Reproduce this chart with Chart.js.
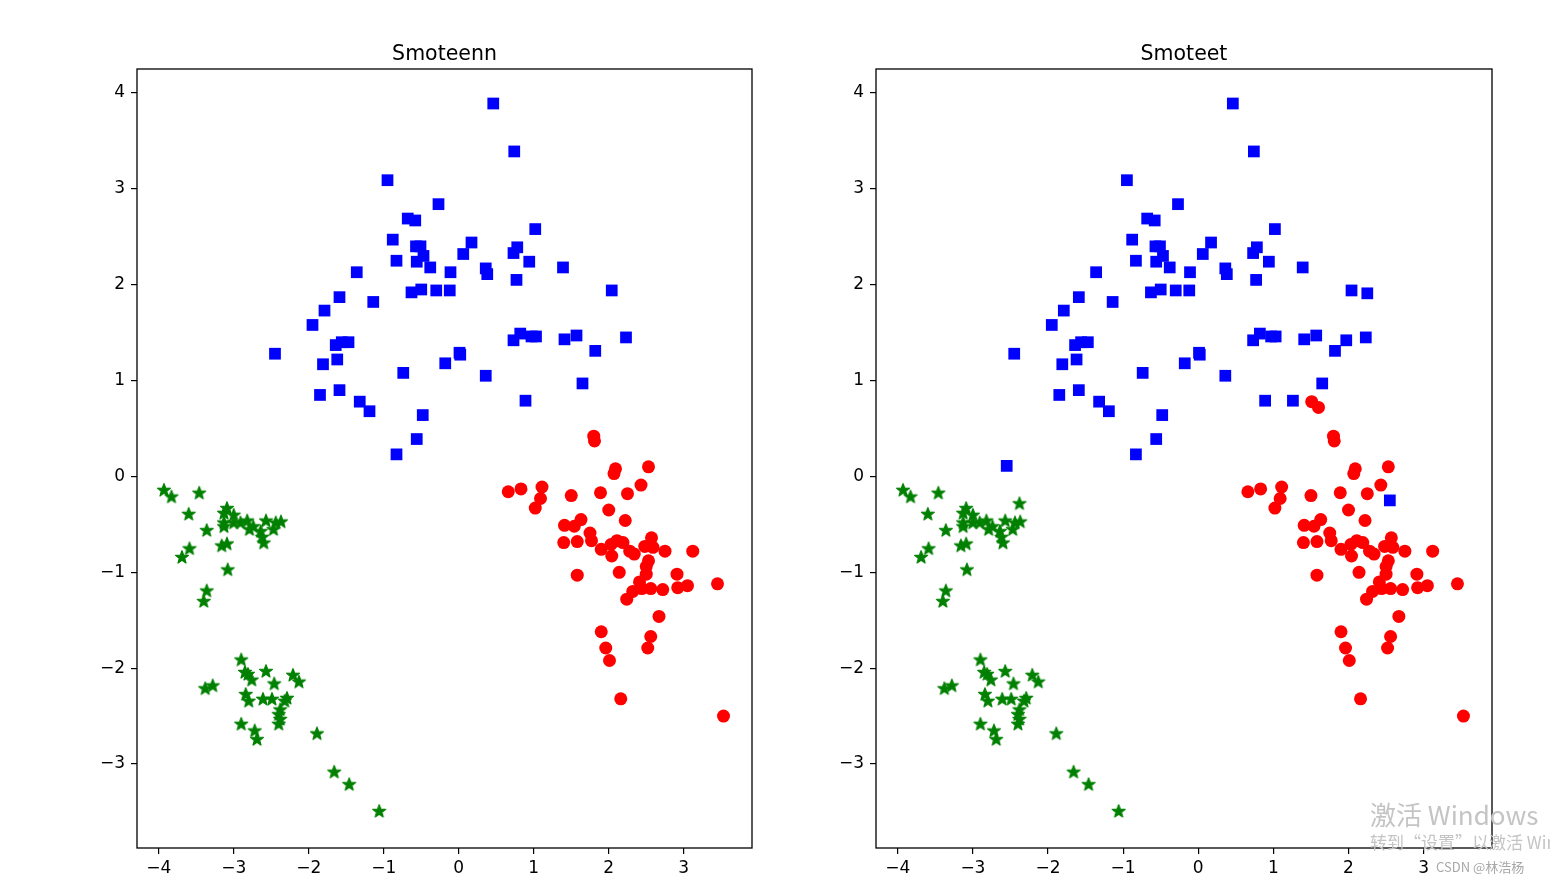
<!DOCTYPE html>
<html>
<head>
<meta charset="utf-8">
<script src="https://cdn.jsdelivr.net/npm/chart.js@4.4.0/dist/chart.umd.min.js"></script>
<style>
  html, body { margin: 0; padding: 0; background: #fff; }
  body { width: 1550px; height: 882px; position: relative; overflow: hidden; font-family: "DejaVu Sans", sans-serif; }
  canvas { position: absolute; top: 0; }
  #left { left: 0; }
  #right { left: 775px; }
  .wm { position: absolute; white-space: nowrap; font-family: "Noto Sans CJK SC", "Noto Sans", sans-serif; }
</style>
</head>
<body>
<canvas id="left" width="775" height="882"></canvas>
<canvas id="right" width="775" height="882"></canvas>
<div class="wm" style="left:1370px; top:795px; font-size:26px; color:#c4c4c4;">激活 Windows</div>
<div class="wm" style="left:1370px; top:829px; font-size:17px; color:#c4c4c4;">转到“设置”以激活 Windows。</div>
<div class="wm" style="left:1436px; top:857px; font-size:13px; color:#a8a8a8;">CSDN @林浩杨</div>
<script>
// axis ranges and ticks (same for both panels)
const xMin = -4.29, xMax = 3.91;
const yMin = -3.876, yMax = 4.25;
const xTicks = [-4, -3, -2, -1, 0, 1, 2, 3];
const yTicks = [-3, -2, -1, 0, 1, 2, 3, 4];

// Smoteenn panel
const smoteennBlue = [
  [0.46,3.89],[0.74,3.39],[-0.95,3.09],[-0.27,2.84],[-0.68,2.69],[-0.58,2.67],[1.02,2.58],[-0.88,2.47],
  [0.17,2.44],[-0.57,2.40],[-0.51,2.40],[0.78,2.39],[0.73,2.33],[0.06,2.32],[-0.47,2.30],[-0.83,2.25],
  [-0.56,2.24],[0.94,2.24],[-0.38,2.18],[1.39,2.18],[-1.36,2.13],[-0.11,2.13],[0.36,2.17],[0.38,2.11],
  [0.77,2.05],[2.04,1.94],[-0.63,1.92],[-0.50,1.95],[-0.30,1.94],[-0.12,1.94],[-1.59,1.87],[-1.14,1.82],
  [-1.79,1.73],[-1.95,1.58],[0.82,1.49],[0.73,1.42],[0.97,1.46],[1.03,1.46],[1.41,1.43],[1.57,1.47],
  [-1.56,1.40],[-1.47,1.40],[-1.64,1.37],[-2.45,1.28],[1.82,1.31],[0.01,1.29],[0.02,1.27],[-1.62,1.22],
  [-1.81,1.17],[-0.18,1.18],[-0.74,1.08],[0.36,1.05],[1.65,0.97],[-1.85,0.85],[-1.59,0.90],[0.89,0.79],
  [-1.32,0.78],[-1.19,0.68],[-0.48,0.64],[-0.56,0.39],[-0.83,0.23],[2.23,1.45]
];
const smoteennRed = [
  [1.80,0.42],[1.81,0.37],[2.09,0.08],[2.07,0.03],[2.53,0.10],[2.43,-0.09],[0.66,-0.16],[0.83,-0.13],
  [1.11,-0.11],[1.09,-0.23],[1.02,-0.33],[1.50,-0.20],[1.89,-0.17],[2.25,-0.18],[2.00,-0.35],[2.22,-0.46],
  [1.41,-0.51],[1.54,-0.52],[1.63,-0.45],[1.75,-0.59],[1.77,-0.67],[1.40,-0.69],[1.58,-0.68],[1.90,-0.76],
  [2.04,-0.83],[2.03,-0.71],[2.11,-0.67],[2.19,-0.69],[2.28,-0.78],[2.34,-0.81],[2.57,-0.64],[2.48,-0.73],
  [2.59,-0.74],[2.75,-0.78],[3.12,-0.78],[2.53,-0.88],[2.50,-0.94],[2.14,-1.00],[1.58,-1.03],[2.50,-1.02],
  [2.41,-1.10],[2.91,-1.02],[2.92,-1.16],[3.05,-1.14],[3.45,-1.12],[2.72,-1.18],[2.56,-1.17],[2.44,-1.17],
  [2.32,-1.20],[2.24,-1.28],[2.67,-1.46],[1.90,-1.62],[2.56,-1.67],[2.52,-1.79],[1.96,-1.79],[2.01,-1.92],
  [2.16,-2.32],[3.53,-2.50]
];
const smoteennGreen = [
  [-3.93,-0.14],[-3.83,-0.21],[-3.46,-0.17],[-3.60,-0.39],[-3.36,-0.56],[-3.59,-0.75],[-3.69,-0.84],
  [-3.09,-0.33],[-3.13,-0.38],[-3.00,-0.40],[-3.13,-0.48],[-3.13,-0.52],[-3.00,-0.48],[-2.91,-0.48],
  [-2.82,-0.46],[-2.79,-0.55],[-2.74,-0.52],[-2.64,-0.57],[-2.62,-0.63],[-2.60,-0.69],[-2.57,-0.46],
  [-2.47,-0.55],[-2.44,-0.48],[-2.37,-0.47],[-3.16,-0.72],[-3.09,-0.70],[-3.08,-0.97],[-3.36,-1.19],
  [-3.40,-1.30],[-2.90,-1.91],[-2.85,-2.04],[-2.81,-2.06],[-2.76,-2.12],[-2.57,-2.03],[-2.46,-2.16],
  [-2.21,-2.07],[-2.13,-2.14],[-3.38,-2.21],[-3.28,-2.18],[-2.84,-2.27],[-2.80,-2.34],[-2.61,-2.32],
  [-2.49,-2.32],[-2.32,-2.34],[-2.29,-2.31],[-2.38,-2.43],[-2.40,-2.48],[-2.38,-2.53],[-2.40,-2.58],
  [-2.90,-2.58],[-2.72,-2.65],[-2.69,-2.74],[-1.89,-2.68],[-1.66,-3.08],[-1.46,-3.21],[-1.06,-3.49]
];

// Smoteet panel: same samples plus the ones only it keeps
const smoteetBlueExtra = [[2.25,1.91],[1.97,1.42],[1.26,0.79],[-2.55,0.11],[2.55,-0.25]];
const smoteetRedExtra = [[1.51,0.78],[1.60,0.72]];
const smoteetGreenExtra = [[-2.38,-0.28]];
const smoteetBlue = smoteennBlue.concat(smoteetBlueExtra);
const smoteetRed = smoteennRed.concat(smoteetRedExtra);
const smoteetGreen = smoteennGreen.concat(smoteetGreenExtra);

// filled 5-point star like matplotlib '*'
function makeStar(color, r) {
  const c = document.createElement('canvas');
  const s = Math.ceil(r * 2 + 2);
  c.width = s; c.height = s;
  const ctx = c.getContext('2d');
  const cx = s / 2, cy = s / 2 + 0.5;
  const inner = r * 0.42;
  ctx.beginPath();
  for (let i = 0; i < 10; i++) {
    const rad = (i % 2 === 0) ? r : inner;
    const a = -Math.PI / 2 + i * Math.PI / 5;
    const px = cx + rad * Math.cos(a), py = cy + rad * Math.sin(a);
    if (i === 0) ctx.moveTo(px, py); else ctx.lineTo(px, py);
  }
  ctx.closePath();
  ctx.fillStyle = color;
  ctx.strokeStyle = color;
  ctx.lineWidth = 1.2;
  ctx.lineJoin = 'round';
  ctx.fill();
  ctx.stroke();
  return c;
}
const starImg = makeStar('#008000', 6.8);

const toXY = arr => arr.map(p => ({ x: p[0], y: p[1] }));
const minus = v => String(v).replace('-', '\u2212');

// title + full box, matplotlib style
const framePlugin = {
  id: 'frame',
  afterDraw(chart, args, opts) {
    const { ctx, chartArea: a } = chart;
    ctx.save();
    ctx.strokeStyle = '#000';
    ctx.lineWidth = 1.3;
    ctx.strokeRect(a.left, a.top, a.right - a.left, a.bottom - a.top);
    ctx.fillStyle = '#000';
    ctx.font = '20.5px "DejaVu Sans"';
    ctx.textAlign = 'center';
    ctx.textBaseline = 'alphabetic';
    ctx.fillText(opts.text, (a.left + a.right) / 2, a.top - 9);
    ctx.restore();
  }
};

function makeChart(id, title, blue, red, green, axisW, padRight) {
  const tickFont = { family: 'DejaVu Sans', size: 17 };
  const grid = { display: true, drawOnChartArea: false, drawTicks: true, tickLength: 6, color: '#000', lineWidth: 1.2 };
  new Chart(document.getElementById(id), {
    type: 'scatter',
    data: {
      datasets: [
        { data: toXY(red), pointStyle: 'circle', pointRadius: 6.5, backgroundColor: '#ff0000', pointBorderWidth: 0 },
        { data: toXY(blue), pointStyle: 'rect', pointRadius: 8.3, backgroundColor: '#0000ff', pointBorderWidth: 0 },
        { data: toXY(green), pointStyle: starImg, pointRadius: 6, backgroundColor: '#008000', pointBorderWidth: 0 }
      ]
    },
    options: {
      responsive: false,
      animation: false,
      events: [],
      layout: { padding: { top: 69, left: 0, right: padRight, bottom: 0 } },
      plugins: { legend: { display: false }, tooltip: { enabled: false }, frame: { text: title } },
      scales: {
        x: {
          type: 'linear', min: xMin, max: xMax,
          afterFit: s => { s.height = 34; },
          afterBuildTicks: s => { s.ticks = xTicks.map(v => ({ value: v })); },
          grid: grid, border: { display: false },
          ticks: { color: '#000', font: tickFont, padding: 4, maxRotation: 0, callback: minus }
        },
        y: {
          type: 'linear', min: yMin, max: yMax,
          afterFit: s => { s.width = axisW; },
          afterBuildTicks: s => { s.ticks = yTicks.map(v => ({ value: v })); },
          grid: grid, border: { display: false },
          ticks: { color: '#000', font: tickFont, padding: 6, callback: minus }
        }
      }
    },
    plugins: [framePlugin]
  });
}

makeChart('left', 'Smoteenn', smoteennBlue, smoteennRed, smoteennGreen, 137, 23);
makeChart('right', 'Smoteet', smoteetBlue, smoteetRed, smoteetGreen, 101, 58);
</script>
</body>
</html>
